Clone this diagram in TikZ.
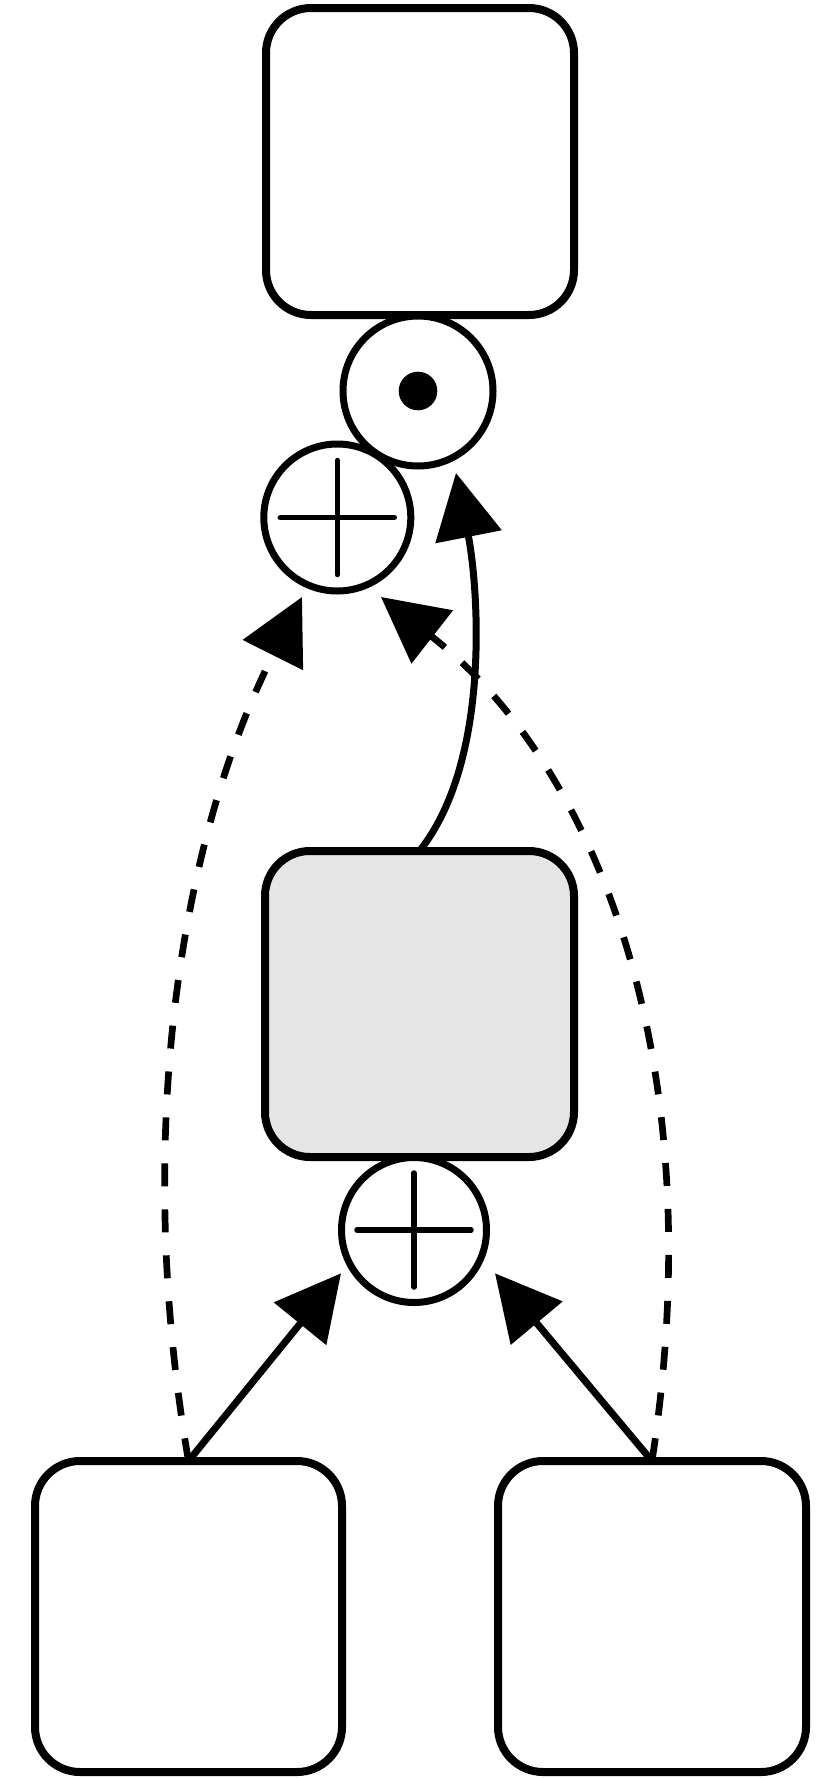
\documentclass[tikz,border=0pt]{standalone}
\usetikzlibrary{arrows.meta,calc}
\begin{document}
\begin{tikzpicture}[x=1pt,y=-1pt,
  box/.style={draw,line width=8pt,rounded corners=45pt,inner sep=0pt,outer sep=0pt,fill=white},
  circ/.style={draw,circle,line width=7pt,inner sep=0pt,outer sep=0pt,fill=white},
  plusline/.style={line width=5.5pt,line cap=round},
  conn/.style={line width=7pt,-{Triangle[length=65pt,width=66pt]}},
  dconn/.style={conn,line width=6.7pt,dash pattern=on 23pt off 23pt}]
\useasboundingbox (0,0) rectangle (835,1778);
% boxes
\node[box,minimum width=308pt,minimum height=307pt] (top) at (420,161.5) {};
\node[box,fill={rgb,255:red,229;green,229;blue,229},minimum width=309pt,minimum height=306pt] (mid) at (419.5,1004) {};
\node[box,minimum width=307pt,minimum height=311pt] (bl) at (188.5,1616.5) {};
\node[box,minimum width=308pt,minimum height=311pt] (br) at (652,1616.5) {};
% circles
\node[circ,minimum size=150pt] (dot) at (418,391) {};
\node[circ,minimum size=147pt] (pu) at (337.3,517.5) {};
\node[circ,minimum size=145pt] (pl) at (414,1230) {};
% symbols
\fill (dot.center) circle[radius=19.3pt];
\draw[plusline] ($(pu.center)+(-57,0)$) -- ($(pu.center)+(57,0)$);
\draw[plusline] ($(pu.center)+(0,-57)$) -- ($(pu.center)+(0,57)$);
\draw[plusline] ($(pl.center)+(-57,0)$) -- ($(pl.center)+(57,0)$);
\draw[plusline] ($(pl.center)+(0,-57)$) -- ($(pl.center)+(0,57)$);
% arrow end points
\coordinate (tipDot) at ($(dot.center)+(38,82)$);
\coordinate (tipL) at ($(pu.center)+(-35.3,79.5)$);
\coordinate (tipR) at ($(pu.center)+(43.7,79.5)$);
\coordinate (tipLL) at ($(pl.center)+(-73,43.3)$);
\coordinate (tipLR) at ($(pl.center)+(81,43.3)$);
% connectors
\draw[conn] (mid.north) .. controls (492,760) and (478,585) .. (tipDot);
\draw[dconn] (bl.north) .. controls (135,1150) and (175,850) .. (tipL);
\draw[dconn] (br.north) .. controls (715,1050) and (590,760) .. (tipR);
\draw[conn] (bl.north) -- (tipLL);
\draw[conn] (br.north) -- (tipLR);
\end{tikzpicture}
\end{document}
